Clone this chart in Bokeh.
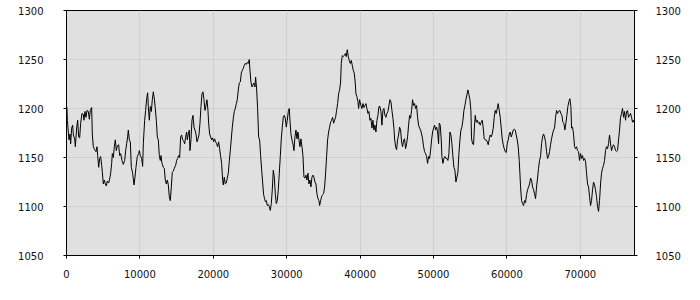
from bokeh.plotting import figure
from bokeh.models import Range1d, LinearAxis, FixedTicker, ColumnDataSource
from bokeh.embed import file_html
from bokeh.resources import INLINE

xs = [0, 60, 114, 341, 477, 568, 704, 840, 931, 1113, 1204, 1385, 1521, 1657, 1794, 1930, 2111, 2293, 2384, 2520,
      2656, 2792, 2974, 3110, 3246, 3428, 3519, 3655, 3837, 4018, 4154, 4245, 4381, 4518, 4654, 4790, 4881, 5017,
      5153, 5289, 5426, 5562, 5743, 5880, 6016, 6152, 6243, 6379, 6515, 6651, 6788, 6924, 7105, 7242, 7378, 7559,
      7741, 7923, 8059, 8195, 8331, 8422, 8558, 8694, 8831, 9012, 9194, 9330, 9466, 9648, 9829, 9920, 10056, 10238,
      10374, 10465, 10647, 10783, 10919, 11055, 11146, 11282, 11418, 11555, 11691, 11827, 11963, 12099, 12236,
      12372, 12508, 12644, 12780, 12871, 13007, 13189, 13325, 13461, 13597, 13734, 13870, 14006, 14142,
      14279, 14415, 14551, 14687, 14869, 15005, 15141, 15277, 15414, 15550, 15686, 15822, 15958, 16095, 16231,
      16367, 16458, 16594, 16730, 16821, 16957, 17093, 17230, 17366, 17502, 17638, 17774, 17911, 18047, 18183,
      18319, 18455, 18592, 18728, 18864, 19000, 19136, 19273, 19364, 19500, 19636, 19772, 19908, 20044, 20181,
      20317, 20453, 20589, 20725, 20862, 20998, 21134, 21270, 21361, 21497, 21633, 21770, 21906, 22042, 22178,
      22314, 22451, 22587, 22723, 22859, 22995, 23132, 23268, 23404, 23540, 23676, 23813, 23949, 24085, 24221,
      24357, 24494, 24630, 24766, 24902, 24993, 25129, 25265, 25402, 25538, 25674, 25765, 25901, 26037, 26173,
      26310, 26446, 26582, 26718, 26854, 26991, 27081, 27218, 27354, 27490, 27626, 27762, 27899, 28035, 28171,
      28307, 28443, 28580, 28716, 28852, 28988, 29124, 29261, 29397, 29533, 29669, 29805, 29942, 30078, 30214,
      30350, 30441, 30577, 30713, 30850, 30986, 31122, 31258, 31394, 31531, 31667, 31803, 31939, 32075, 32212,
      32348, 32484, 32620, 32756, 32893, 33029, 33165, 33301, 33437, 33574, 33710, 33846, 33982, 34118, 34255,
      34391, 34482, 34618, 34754, 34890, 35026, 35163, 35299, 35435, 35571, 35707, 35844, 35980, 36116, 36252,
      36388, 36525, 36661, 36797, 36933, 37069, 37206, 37342, 37433, 37569, 37705, 37841, 37977, 38114, 38250,
      38386, 38522, 38658, 38795, 38931, 39067, 39203, 39339, 39430, 39566, 39702, 39793, 39929,
      40111, 40247, 40384, 40520, 40656, 40792, 40928, 41065, 41201, 41337, 41473, 41609, 41746, 41882, 42018,
      42154, 42290, 42427, 42563, 42699, 42835, 42971, 43108, 43244, 43380, 43516, 43652, 43789, 43925, 44061,
      44197, 44333, 44470, 44606, 44697, 44833, 44969, 45105, 45241, 45378, 45514, 45650, 45786, 45922, 46059,
      46195, 46331, 46467, 46603, 46740, 46876, 47012, 47148, 47284, 47421, 47557, 47693, 47829, 47965, 48102,
      48238, 48374, 48510, 48646, 48783, 48919, 49055, 49191, 49327, 49464, 49600, 49736, 49872, 50008, 50145,
      50281, 50417, 50553, 50689, 50780, 50916, 51053, 51143, 51280, 51416, 51552, 51688, 51825, 51961, 52097,
      52233, 52369, 52506, 52642, 52778, 52914, 53050, 53187, 53323, 53459,
      53595, 53731, 53867, 54004, 54140, 54276, 54413, 54549, 54685, 54821, 54957, 55093, 55184, 55320, 55456,
      55547, 55683, 55820, 55956, 56092, 56228, 56364, 56501, 56637, 56773, 56909, 57045, 57181, 57318, 57454,
      57590, 57726, 57863, 57999, 58135, 58271, 58407, 58544, 58680, 58816, 58952, 59088, 59225, 59361, 59497,
      59633, 59769, 59906, 60042, 60178, 60314, 60450, 60587, 60723, 60859, 60995, 61131, 61268, 61404, 61540,
      61676, 61767, 61858, 61994, 62130, 62267, 62403, 62539, 62675, 62811, 62948, 63084, 63220, 63356, 63492,
      63629, 63765, 63901, 64037, 64173, 64310, 64446, 64582, 64718, 64854, 64991, 65127, 65263, 65399, 65535,
      65672, 65808, 65944, 66080, 66216, 66353, 66489, 66625, 66761, 66897, 67034,
      67215, 67351, 67487, 67624, 67760, 67896, 68032, 68168, 68305, 68441, 68577, 68713, 68804, 68940, 69076,
      69213, 69349, 69485, 69621, 69757, 69894, 70030, 70166, 70302, 70438, 70575, 70711, 70847, 70983, 71119,
      71256, 71392, 71528, 71664, 71800, 71937, 72073, 72209, 72345, 72481, 72618, 72754, 72890, 73026, 73162,
      73299, 73435, 73571, 73707, 73843, 73980, 74116, 74252, 74388, 74524, 74661, 74797, 74933, 75069, 75205,
      75342, 75478, 75614, 75750, 75886, 76023, 76159, 76295, 76431, 76567, 76704, 76840, 76976, 77112, 77248,
      77380]

ys = [1200, 1201, 1188, 1168, 1174, 1164, 1180, 1183, 1173, 1169, 1161, 1180, 1188, 1171, 1170, 1185, 1195, 1194, 1188, 1197,
      1191, 1198, 1197, 1189, 1198, 1201, 1173, 1161, 1158, 1156, 1161, 1152, 1140, 1149, 1151, 1142, 1135, 1123,
      1127, 1123, 1121, 1126, 1124, 1128, 1134, 1144, 1154, 1150, 1161, 1168, 1157, 1162, 1163, 1152, 1154, 1147,
      1143, 1147, 1157, 1164, 1171, 1178, 1168, 1166, 1140, 1134, 1122, 1130, 1140, 1151, 1154, 1157, 1152, 1149,
      1141, 1164, 1188, 1198, 1210, 1216, 1202, 1188, 1202, 1197, 1209, 1217, 1210, 1200, 1188,
      1171, 1168, 1152, 1147, 1152, 1144, 1140, 1139, 1127, 1123, 1127, 1122, 1110, 1106,
      1120, 1135, 1136, 1139, 1142, 1147, 1149, 1152, 1150, 1171, 1173, 1168, 1167, 1164, 1171,
      1176, 1168, 1174, 1178, 1157, 1168, 1188, 1193, 1181, 1178, 1174, 1166, 1169, 1173, 1185,
      1202, 1215, 1217, 1209, 1198, 1203, 1209, 1198, 1185, 1174, 1171, 1168, 1170, 1166, 1169,
      1166, 1164, 1161, 1166, 1159, 1151, 1144, 1127, 1122, 1130, 1123, 1124, 1129, 1134, 1146,
      1157, 1169, 1181, 1190, 1197, 1200, 1205, 1209, 1219, 1226, 1227, 1236, 1239, 1241, 1244,
      1246, 1245, 1247, 1246, 1250, 1239, 1227, 1222, 1224, 1226, 1222, 1232, 1220, 1200, 1171,
      1168, 1152, 1138, 1125, 1112, 1108, 1105, 1106, 1101, 1102, 1100, 1096, 1103, 1117, 1137,
      1130, 1113, 1103, 1106, 1117, 1134, 1151, 1169, 1181, 1191, 1193, 1190, 1181, 1188, 1197,
      1200, 1188, 1174, 1168, 1164, 1157, 1171, 1178, 1169, 1176, 1168, 1161, 1169, 1161, 1152,
      1130, 1129, 1132, 1127, 1134, 1123, 1127, 1120, 1130, 1132, 1130, 1125, 1123, 1113, 1108,
      1106, 1101, 1106, 1110, 1112, 1113, 1120, 1134, 1151, 1168, 1176, 1181, 1186, 1188, 1191,
      1185, 1188, 1191, 1198, 1205, 1215, 1219, 1227, 1246, 1254, 1253, 1254, 1256, 1253, 1260,
      1253, 1249, 1246, 1249, 1244, 1239, 1236, 1226, 1215, 1212, 1207, 1200, 1209,
      1203, 1200, 1205, 1201, 1203, 1205, 1200, 1195, 1197, 1188, 1190, 1180, 1188, 1178, 1183,
      1176, 1188, 1193, 1202, 1202, 1197, 1183, 1198, 1200, 1193, 1191, 1195, 1197, 1203, 1209,
      1207, 1198, 1190, 1180, 1169, 1161, 1158, 1168, 1173, 1181, 1178, 1166, 1161, 1168, 1169,
      1159, 1164, 1171, 1183, 1193, 1190, 1198, 1209, 1203, 1205, 1200, 1203, 1191, 1183, 1180,
      1178, 1174, 1169, 1161, 1156, 1154, 1151, 1144, 1151, 1149, 1157, 1168, 1176, 1180, 1183,
      1178, 1181, 1176, 1164, 1185, 1183, 1168, 1151, 1144, 1149, 1151, 1149, 1149, 1147, 1154,
      1176, 1173, 1164, 1151, 1140, 1137, 1125, 1130, 1135, 1154,
      1168, 1178, 1181, 1188, 1198, 1203, 1209, 1214, 1219, 1214, 1209, 1198, 1169, 1164, 1163,
      1178, 1193, 1186, 1188, 1185, 1186, 1183, 1186, 1188, 1180, 1169, 1168, 1168, 1166, 1163,
      1169, 1173, 1171, 1174, 1180, 1191, 1198, 1195, 1200, 1205, 1198, 1191, 1180, 1169, 1163,
      1159, 1156, 1155, 1164, 1168, 1174, 1176, 1171, 1174, 1178, 1179, 1178, 1173, 1168, 1161,
      1147, 1134, 1120, 1106, 1103, 1101, 1106, 1104, 1112, 1117, 1120, 1123, 1129, 1127, 1120,
      1117, 1113, 1108, 1120, 1129, 1139, 1147, 1151, 1164, 1171, 1174, 1171, 1166, 1156, 1149,
      1151, 1156, 1163, 1169, 1174, 1178, 1180, 1191, 1198, 1195, 1197,
      1198, 1195, 1193, 1186, 1185, 1178, 1185, 1193, 1202, 1207, 1210, 1202, 1180, 1181, 1174,
      1161, 1159, 1161, 1157, 1156, 1147, 1154, 1149, 1152, 1147, 1149, 1146, 1134, 1123, 1120,
      1110, 1101, 1106, 1117, 1125, 1122, 1117, 1110, 1100, 1095, 1106, 1123, 1134, 1139, 1142,
      1147, 1157, 1161, 1159, 1164, 1173, 1164, 1157, 1161, 1163, 1161, 1157, 1156, 1157, 1168,
      1178, 1191, 1195, 1200, 1191, 1197, 1188, 1197, 1198, 1191, 1193, 1195, 1191, 1186, 1188,
      1185]

x_ticks = [0, 10000, 20000, 30000, 40000, 50000, 60000, 70000]
y_ticks = [1050, 1100, 1150, 1200, 1250, 1300]

src = ColumnDataSource(data=dict(x=xs, y=ys))

p = figure(width=700, height=300, output_backend="svg", toolbar_location=None,
           x_range=Range1d(0, xs[-1]), y_range=Range1d(y_ticks[0], y_ticks[-1]),
           min_border_left=66, min_border_right=66, min_border_top=10, min_border_bottom=45,
           background_fill_color="#e0e0e0", border_fill_color="white")
p.outline_line_color = "black"
p.outline_line_width = 1
p.outline_line_alpha = 1

p.line("x", "y", source=src, line_color="black", line_width=1)

p.add_layout(LinearAxis(), "right")

for ax in p.axis:
    ax.axis_line_color = "black"
    ax.major_tick_line_color = "black"
    ax.major_tick_out = 3
    ax.major_tick_in = 0
    ax.minor_tick_out = 0
    ax.minor_tick_in = 0
    ax.major_label_text_font = "DejaVu Sans"
    ax.major_label_text_font_size = "10px"
    ax.major_label_text_color = "#111111"

p.xaxis.ticker = FixedTicker(ticks=x_ticks)
p.xaxis.major_label_standoff = 11
p.yaxis.ticker = FixedTicker(ticks=y_ticks)
p.left[0].major_label_standoff = 20
p.right[0].major_label_standoff = 18
p.xaxis.major_label_overrides = {t: str(t) for t in x_ticks}

p.grid.grid_line_color = "#d0d0d0"
p.grid.grid_line_width = 1
p.xgrid.ticker = FixedTicker(ticks=x_ticks)
p.ygrid.ticker = FixedTicker(ticks=y_ticks)

open("out.html", "w").write(file_html(p, INLINE))
